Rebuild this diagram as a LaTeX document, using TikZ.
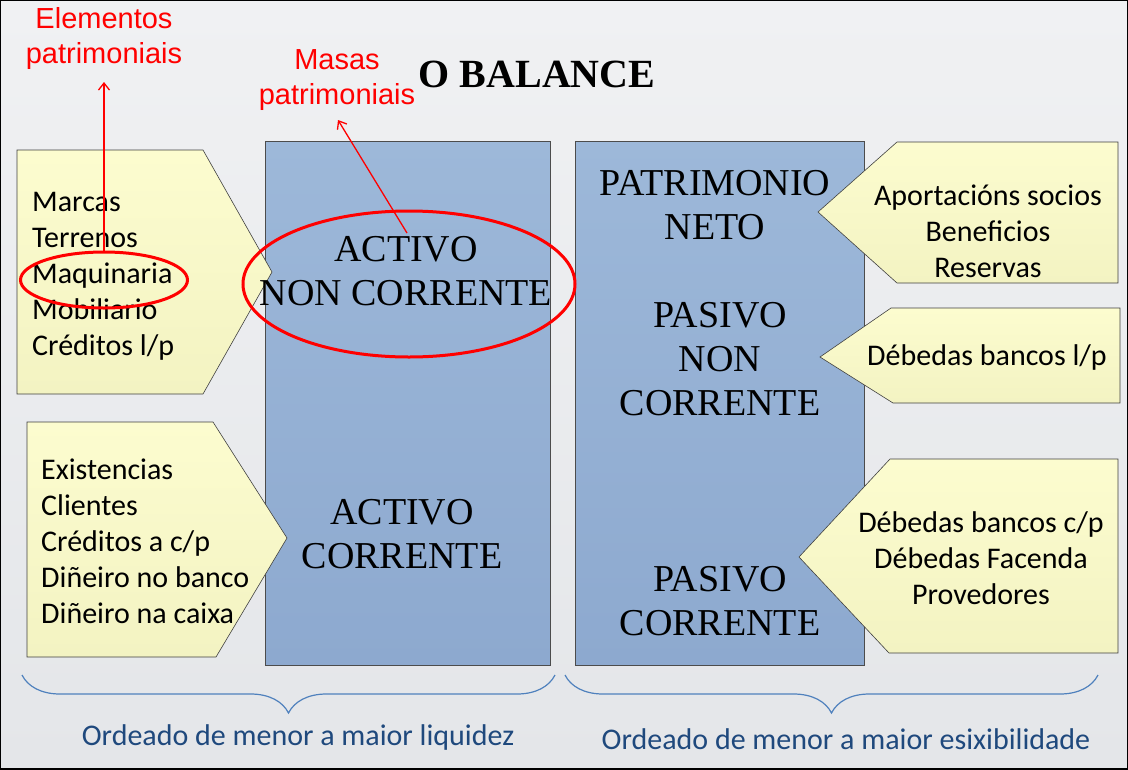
\documentclass[tikz,border=0pt]{standalone}
\usepackage{fontspec}
\setmainfont{Liberation Serif}
\newfontfamily\calibrifont{Carlito}
\newfontfamily\arialfont{Liberation Sans}
\usepackage{xcolor}
\usepackage{tikz}
\usetikzlibrary{arrows.meta, positioning, calc, shapes.geometric,
                decorations.pathreplacing}

\definecolor{bgtop}{RGB}{240,241,243}
\definecolor{bgbot}{RGB}{228,230,233}
\definecolor{colA}{RGB}{157,184,217}
\definecolor{colB}{RGB}{141,169,207}
\definecolor{tagA}{RGB}{252,252,207}
\definecolor{tagB}{RGB}{243,243,194}
\definecolor{braceblue}{RGB}{79,129,189}
\definecolor{footblue}{RGB}{31,73,125}

\begin{document}
\begin{tikzpicture}[
  x=1pt, y=-1pt,
  colbox/.style={draw=black!70, line width=0.8pt, top color=colA, bottom color=colB},
  tag/.style={draw=black!75, line width=0.6pt, top color=tagA, bottom color=tagB},
  itemtxt/.style={font=\calibrifont\fontsize{30}{36}\selectfont, inner sep=0pt},
  masstxt/.style={font=\fontsize{38}{44}\selectfont, align=center, inner sep=0pt},
  redlbl/.style={font=\arialfont\fontsize{29}{35}\selectfont, text=red,
                 align=center, inner sep=0pt},
  redarr/.style={draw=red, line width=1.3pt, -{Straight Barb[length=7pt, width=11pt]}},
  ring/.style={ellipse, draw=red, line width=3pt, inner sep=0pt},
  curly/.style={draw=braceblue, line width=1.2pt, decorate,
                decoration={brace, mirror, amplitude=38pt}},
  foot/.style={font=\calibrifont\fontsize{30}{36}\selectfont, text=footblue, inner sep=0pt},
]
\useasboundingbox (0,0) rectangle (1128,769);
\shade[top color=bgtop, bottom color=bgbot] (0,0) rectangle (1128,769);

% columns
\draw[colbox] (265,141) rectangle (550,665);
\draw[colbox] (575,141) rectangle (864,665);

% tags with the elements
\draw[tag] (17,150) -- (203,150) -- (272,272) -- (203,394) -- (17,394) -- cycle;
\draw[tag] (27,422) -- (213,422) -- (287,538) -- (216,657) -- (27,657) -- cycle;
\draw[tag] (1118,142) -- (897,142) -- (818,212) -- (897,283) -- (1118,283) -- cycle;
\draw[tag] (1120,308) -- (891,308) -- (820,357) -- (893,403) -- (1120,403) -- cycle;
\draw[tag] (1118,459) -- (890,459) -- (799,557) -- (889,653) -- (1118,653) -- cycle;

\node[itemtxt, anchor=west, align=left] (fixos) at (32,276)
  {Marcas\\Terrenos\\Maquinaria\\Mobiliario\\Créditos l/p};
\node[itemtxt, anchor=west, align=left] (circulantes) at (41,541)
  {Existencias\\Clientes\\Créditos a c/p\\Diñeiro no banco\\Diñeiro na caixa};
\node[itemtxt, align=center] (propios) at (988,231)
  {Aportacións socios\\Beneficios\\Reservas};
\node[itemtxt, align=center] (longo) at (987,357) {Débedas bancos l/p};
\node[itemtxt, align=center] (curto) at (981,558.5)
  {Débedas bancos c/p\\Débedas Facenda\\Provedores};

% masses
\node[masstxt] (anc) at (406,271.5) {ACTIVO\\NON CORRENTE};
\node[masstxt] (ac) at (402,534.5) {ACTIVO\\CORRENTE};
\node[masstxt] (pn) at (715,205.5) {PATRIMONIO\\NETO};
\node[masstxt] (pnc) at (720,359.5) {PASIVO\\NON\\CORRENTE};
\node[masstxt] (pc) at (720,601) {PASIVO\\CORRENTE};

\node[font=\bfseries\fontsize{40}{44}\selectfont, inner sep=0pt] (titulo) at (537,74) {O BALANCE};

% red notes
\node[ring, minimum width=332pt, minimum height=146pt] (masaring) at (409,284) {};
\node[ring, minimum width=167pt, minimum height=56pt] (elemring) at (104,280) {};
\node[redlbl] (elementos) at (104,38) {Elementos\\patrimoniais};
\node[redlbl] (masas) at (337,80) {Masas\\patrimoniais};
\coordinate (masafoot) at (407,233);
\coordinate (masatip) at (338,120);
\coordinate (elemtip) at (104,82);
\draw[redarr] (elemring.north) -- (elemtip);
\draw[redarr] (masafoot) -- (masatip);

% braces
\coordinate (bl1) at (22,675);
\coordinate (bl2) at (555,675);
\coordinate (br1) at (565,675);
\coordinate (br2) at (1098,675);
\draw[curly] (bl1) -- (bl2);
\draw[curly] (br1) -- (br2);
\node[foot] (liquidez) at (298,737) {Ordeado de menor a maior liquidez};
\node[foot] (esixib) at (846,739) {Ordeado de menor a maior esixibilidade};

\draw[line width=2pt] (0,0) rectangle (1128,769);
\end{tikzpicture}
\end{document}
